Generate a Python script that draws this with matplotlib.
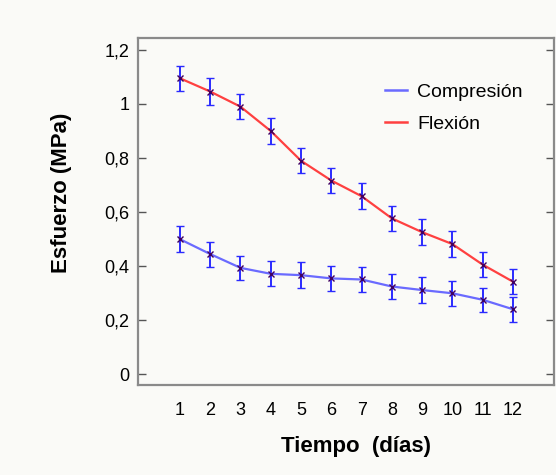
import numpy as np
import matplotlib.pyplot as plt
from matplotlib.lines import Line2D

dias = np.arange(1, 13)
compresion = [0.50, 0.445, 0.394, 0.372, 0.367, 0.355, 0.351, 0.325, 0.312, 0.300, 0.276, 0.241]
compresion_err = [0.047, 0.046, 0.045, 0.046, 0.047, 0.047, 0.047, 0.046, 0.047, 0.047, 0.045, 0.046]
flexion = [1.095, 1.046, 0.99, 0.90, 0.79, 0.717, 0.659, 0.577, 0.526, 0.482, 0.406, 0.343]
flexion_err = [0.047, 0.049, 0.047, 0.047, 0.046, 0.046, 0.047, 0.046, 0.047, 0.047, 0.047, 0.047]
yticks = [0, 0.2, 0.4, 0.6, 0.8, 1.0, 1.2]
ytick_labels = ['0', '0,2', '0,4', '0,6', '0,8', '1', '1,2']

plt.rcParams['font.family'] = ['Liberation Sans', 'DejaVu Sans']

fig = plt.figure(figsize=(5.56, 4.75), dpi=100, facecolor='#fafaf7')
ax = fig.add_axes([0.248, 0.189, 0.748, 0.731])
ax.set_facecolor('#fafaf7')

ax.errorbar(dias, compresion, yerr=compresion_err, color='#6a6aff', lw=1.6,
            ecolor='#2a2aff', elinewidth=1.4, capsize=3, capthick=1.4,
            marker='x', ms=4, mec='#400060', mew=1.0, label='Compresión')
ax.errorbar(dias, flexion, yerr=flexion_err, color='#ff4040', lw=1.6,
            ecolor='#2a2aff', elinewidth=1.4, capsize=3, capthick=1.4,
            marker='x', ms=4, mec='#400060', mew=1.0, label='Flexión')

ax.set_xlim(-0.39, 13.35)
ax.set_ylim(-0.04, 1.244)
ax.set_xticks(dias)
ax.set_yticks(yticks)
ax.set_yticklabels(ytick_labels)
ax.tick_params(axis='y', direction='in', length=6, width=1, color='#555555',
               labelsize=13, right=True, pad=6)
ax.tick_params(axis='x', length=0, labelsize=13, pad=12)
for s in ax.spines.values():
    s.set_color('#8a8a8a')
    s.set_linewidth(1.6)

ax.set_xlabel('Tiempo  (días)', fontsize=16, fontweight='bold')
ax.set_ylabel('Esfuerzo (MPa)', fontsize=16, fontweight='bold')
ax.xaxis.set_label_coords(0.524, -0.145)
ax.yaxis.set_label_coords(-0.158, 0.553)

labels = ['Compresión', 'Flexión']
h = [Line2D([], [], color='#6a6aff', lw=1.8), Line2D([], [], color='#ff4040', lw=1.8)]
ax.legend(h, labels, loc='upper left', bbox_to_anchor=(0.594, 0.87), frameon=False,
          fontsize=14, handlelength=1.15, handletextpad=0.5, labelspacing=0.75,
          borderpad=0, borderaxespad=0)

fig.savefig('out.png', dpi=100, facecolor=fig.get_facecolor())
